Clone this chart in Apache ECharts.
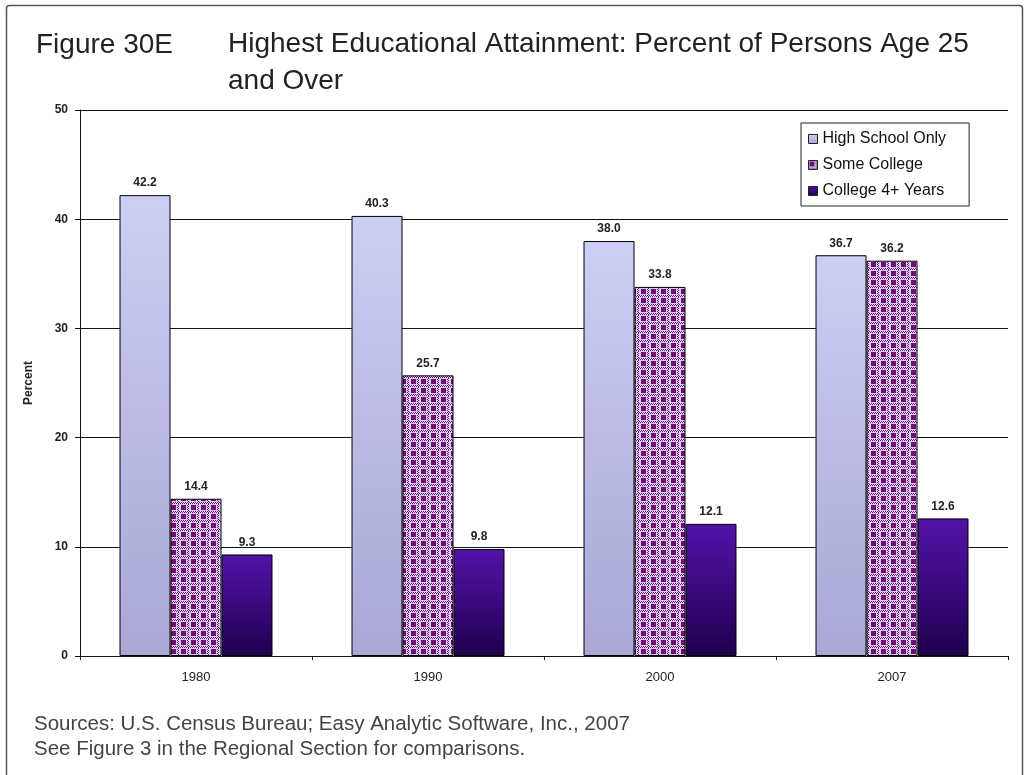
<!DOCTYPE html>
<html><head><meta charset="utf-8">
<script src="https://cdn.jsdelivr.net/npm/echarts/dist/echarts.min.js"></script>
<style>html,body{margin:0;padding:0;background:#fff}#c{width:1024px;height:775px}</style>
</head><body><div id="c"></div><script>
const categories = ['1980', '1990', '2000', '2007'];
const highSchoolOnly = [42.2, 40.3, 38.0, 36.7];
const someCollege = [14.4, 25.7, 33.8, 36.2];
const college4Plus = [9.3, 9.8, 12.1, 12.6];
const seriesNames = ['High School Only', 'Some College', 'College 4+ Years'];
const yAxisMin = 0, yAxisMax = 50, yAxisStep = 10;

const FONT = '"Liberation Sans", Arial, Helvetica, sans-serif';

// gingham-like pattern for "Some College"
function makePattern() {
  const c = document.createElement('canvas');
  c.width = 10; c.height = 9;
  const g = c.getContext('2d');
  const P = '#740a72', L = '#cfcbf5', W = '#e6e2fa';
  g.fillStyle = L; g.fillRect(0, 0, 10, 9);
  g.fillStyle = P; g.fillRect(1, 1, 5, 5);
  // dotted horizontal band
  for (let y = 7; y < 9; y++) {
    for (let x = 0; x < 10; x++) {
      g.fillStyle = ((x + y) % 2 === 0) ? P : W;
      g.fillRect(x, y, 1, 1);
    }
  }
  // dotted vertical band
  for (let y = 0; y < 7; y++) {
    for (let x = 7; x < 9; x++) {
      g.fillStyle = ((x + y) % 2 === 0) ? P : W;
      g.fillRect(x, y, 1, 1);
    }
  }
  return c;
}
const pattern = { image: makePattern(), repeat: 'repeat' };

const hsColor = new echarts.graphic.LinearGradient(0, 0, 0, 1, [
  { offset: 0, color: '#cdcef5' }, { offset: 1, color: '#a8a7d6' }]);
const c4Color = new echarts.graphic.LinearGradient(0, 0, 0, 1, [
  { offset: 0, color: '#5412aa' }, { offset: 1, color: '#1e004e' }]);

const labelCfg = {
  show: true, position: 'top', distance: 6,
  fontFamily: FONT, fontSize: 12, fontWeight: 'bold', color: '#222',
  formatter: p => p.value.toFixed(1)
};

function bar(name, data, color) {
  return {
    name, type: 'bar', data, barWidth: 51, barGap: '0%',
    itemStyle: { color, borderColor: '#000', borderWidth: 1 },
    label: labelCfg
  };
}

const chart = echarts.init(document.getElementById('c'), null, { renderer: 'canvas' });
chart.setOption({
  animation: false,
  backgroundColor: '#fff',
  grid: { left: 80, right: 16, top: 110, bottom: 119 },
  legend: {
    orient: 'vertical', left: 801, top: 123,
    data: seriesNames.map(n => ({ name: n, icon: 'rect' })),
    itemWidth: 9, itemHeight: 9, itemGap: 10,
    padding: [8, 23, 7, 7],
    borderColor: '#222', borderWidth: 1,
    textStyle: { fontFamily: FONT, fontSize: 16, color: '#111' },
    itemStyle: { borderColor: '#222', borderWidth: 1 }
  },
  xAxis: {
    type: 'category', data: categories,
    axisLine: { lineStyle: { color: '#111', width: 1 } },
    axisTick: { show: true, length: 4, lineStyle: { color: '#111' } },
    axisLabel: { fontFamily: FONT, fontSize: 13, color: '#222', margin: 15 }
  },
  yAxis: {
    type: 'value', min: yAxisMin, max: yAxisMax, interval: yAxisStep,
    name: 'Percent', nameLocation: 'middle', nameGap: 45, nameRotate: 90,
    nameTextStyle: { fontFamily: FONT, fontSize: 12, fontWeight: 'bold', color: '#222' },
    axisLine: { show: true, lineStyle: { color: '#111', width: 1 } },
    axisTick: { show: true, length: 5, lineStyle: { color: '#111' } },
    axisLabel: { fontFamily: FONT, fontSize: 12, fontWeight: 'bold', color: '#222', margin: 12 },
    splitLine: { lineStyle: { color: '#111', width: 1 } }
  },
  series: [
    bar(seriesNames[0], highSchoolOnly, hsColor),
    bar(seriesNames[1], someCollege, pattern),
    bar(seriesNames[2], college4Plus, c4Color)
  ],
  graphic: [
    { type: 'rect', silent: true, z: 100,
      shape: { x: 6.5, y: 5.5, width: 1016, height: 820, r: 3 },
      style: { fill: 'none', stroke: '#555', lineWidth: 1.5 } },
    { type: 'text', left: 36, top: 31,
      style: { text: 'Figure 30E', fontFamily: FONT, fontSize: 28, fill: '#222' } },
    { type: 'text', left: 228, top: 26,
      style: { text: 'Highest Educational Attainment: Percent of Persons Age 25\nand Over',
        fontFamily: FONT, fontSize: 28, lineHeight: 37, fill: '#222' } },
    { type: 'text', left: 34, top: 712,
      style: { text: 'Sources: U.S. Census Bureau; Easy Analytic Software, Inc., 2007\nSee Figure 3 in the Regional Section for comparisons.',
        fontFamily: FONT, fontSize: 20.5, lineHeight: 25, fill: '#444' } }
  ]
});
</script></body></html>
